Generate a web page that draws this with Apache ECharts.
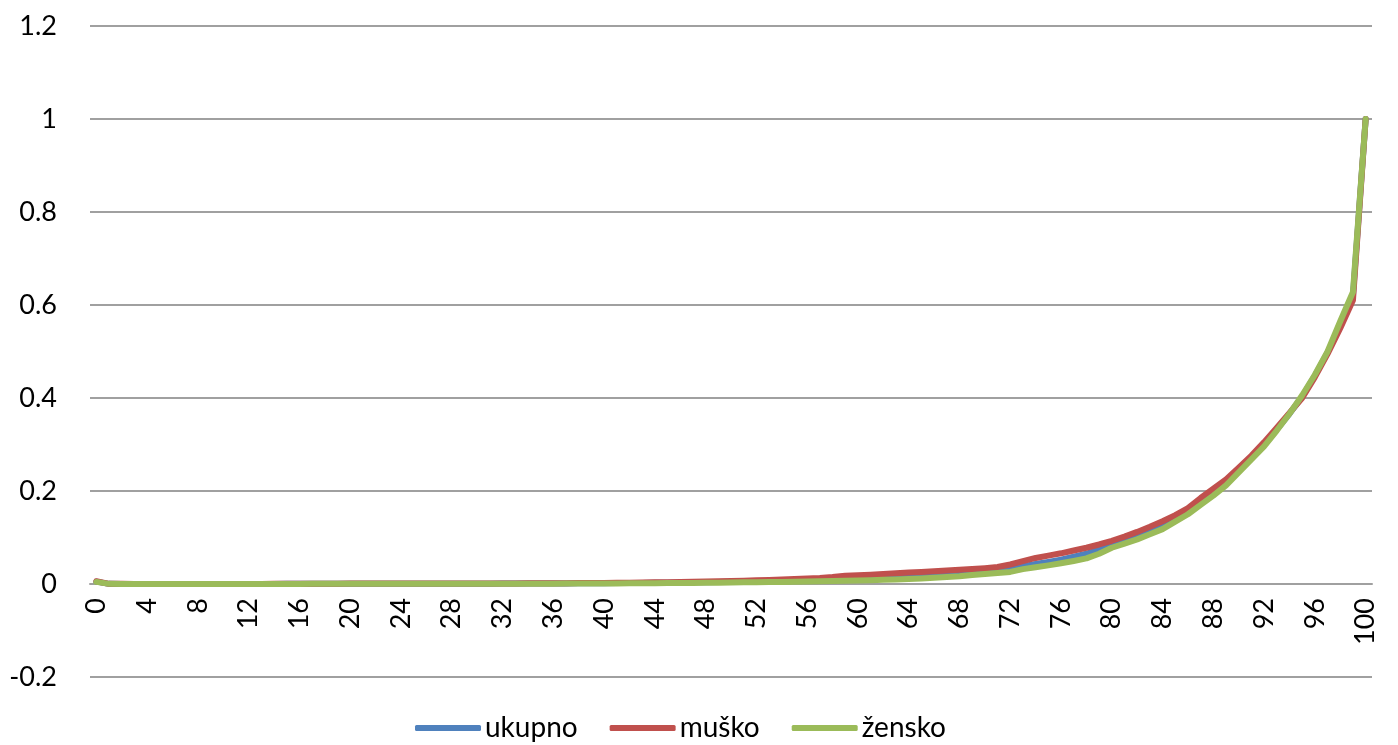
<!DOCTYPE html>
<html>
<head>
<meta charset="utf-8">
<script src="https://cdn.jsdelivr.net/npm/echarts@6/dist/echarts.min.js"></script>
<style>
html,body{margin:0;padding:0;background:#fff;}
#chart{width:1398px;height:745px;}
</style>
</head>
<body>
<div id="chart"></div>
<script>
const ages = Array.from({length: 101}, (_, i) => String(i));
const seriesNames = ['ukupno', 'muško', 'žensko'];
const yTicks = [-0.2, 0, 0.2, 0.4, 0.6, 0.8, 1, 1.2];

const ukupno = [
  0.0052,
  0.0003, 0.0002, 0.0002, 0.0001,
  0.0001, 0.0001, 0.0001, 0.0001, 0.0001,
  0.0001, 0.0001, 0.0001, 0.0002, 0.0002,
  0.0003, 0.0004, 0.0004, 0.0005, 0.0006,
  0.0006, 0.0006, 0.0006, 0.0006, 0.0006,
  0.0006, 0.0006, 0.0007, 0.0007, 0.0007,
  0.0008, 0.0008, 0.0009, 0.0010, 0.0010,
  0.0011, 0.0012, 0.0013, 0.0014, 0.0016,
  0.0017, 0.0019, 0.0022, 0.0024, 0.0026,
  0.0029, 0.0032, 0.0036, 0.0039, 0.0044,
  0.0048, 0.0053, 0.0059, 0.0064, 0.0071,
  0.0078, 0.0085, 0.0094, 0.0106, 0.0124,
  0.0132, 0.0141, 0.0152, 0.0164, 0.0177,
  0.0190, 0.0204, 0.0219, 0.0235, 0.0255,
  0.0275, 0.0298, 0.0335, 0.0380, 0.0430,
  0.0475, 0.0525, 0.0585, 0.0650, 0.0740,
  0.0850, 0.0940, 0.1040, 0.1150, 0.1270,
  0.1400, 0.1560, 0.1740, 0.1950, 0.2170,
  0.2450, 0.2720, 0.3000, 0.3320, 0.3660,
  0.4030, 0.4480, 0.4980, 0.5560, 0.6200,
  1.0
];

const musko = [
  0.0060,
  0.0004, 0.0003, 0.0002, 0.0002,
  0.0001, 0.0001, 0.0001, 0.0001, 0.0001,
  0.0001, 0.0001, 0.0002, 0.0002, 0.0003,
  0.0004, 0.0005, 0.0006, 0.0007, 0.0008,
  0.0009, 0.0009, 0.0009, 0.0009, 0.0009,
  0.0009, 0.0010, 0.0010, 0.0010, 0.0011,
  0.0011, 0.0012, 0.0012, 0.0013, 0.0014,
  0.0015, 0.0016, 0.0018, 0.0019, 0.0021,
  0.0023, 0.0026, 0.0029, 0.0032, 0.0035,
  0.0039, 0.0043, 0.0048, 0.0053, 0.0059,
  0.0065, 0.0072, 0.0080, 0.0088, 0.0097,
  0.0107, 0.0118, 0.0130, 0.0150, 0.0180,
  0.0190, 0.0200, 0.0215, 0.0230, 0.0245,
  0.0260, 0.0275, 0.0290, 0.0305, 0.0320,
  0.0340, 0.0365, 0.0420, 0.0490, 0.0560,
  0.0610, 0.0660, 0.0720, 0.0780, 0.0850,
  0.0930, 0.1020, 0.1120, 0.1230, 0.1350,
  0.1480, 0.1630, 0.1850, 0.2050, 0.2250,
  0.2500, 0.2760, 0.3050, 0.3360, 0.3680,
  0.4000, 0.4450, 0.4950, 0.5500, 0.6100,
  1.0
];

const zensko = [
  0.0045,
  0.0003, 0.0002, 0.0002, 0.0001,
  0.0001, 0.0001, 0.0001, 0.0001, 0.0001,
  0.0001, 0.0001, 0.0001, 0.0001, 0.0002,
  0.0002, 0.0002, 0.0003, 0.0003, 0.0003,
  0.0003, 0.0003, 0.0003, 0.0003, 0.0003,
  0.0003, 0.0003, 0.0004, 0.0004, 0.0004,
  0.0004, 0.0005, 0.0005, 0.0006, 0.0006,
  0.0007, 0.0008, 0.0009, 0.0010, 0.0011,
  0.0012, 0.0013, 0.0015, 0.0016, 0.0018,
  0.0020, 0.0022, 0.0024, 0.0026, 0.0029,
  0.0032, 0.0035, 0.0038, 0.0041, 0.0045,
  0.0049, 0.0053, 0.0058, 0.0063, 0.0069,
  0.0075, 0.0082, 0.0090, 0.0099, 0.0109,
  0.0120, 0.0133, 0.0148, 0.0165, 0.0195,
  0.0215, 0.0235, 0.0260, 0.0320, 0.0360,
  0.0400, 0.0445, 0.0495, 0.0550, 0.0650,
  0.0780, 0.0870, 0.0960, 0.1070, 0.1180,
  0.1340, 0.1500, 0.1700, 0.1900, 0.2120,
  0.2400, 0.2680, 0.2960, 0.3300, 0.3660,
  0.4060, 0.4500, 0.5000, 0.5650, 0.6280,
  1.0
];

const colors = ['#4F81BD', '#C0504D', '#9BBB59'];
const values = [ukupno, musko, zensko];
const FONT = 'Lato, "Open Sans", sans-serif';

const chart = echarts.init(document.getElementById('chart'), null, {renderer: 'canvas'});
chart.setOption({
  animation: false,
  backgroundColor: '#ffffff',
  color: colors,
  grid: {left: 90, right: 26, top: 26, bottom: 68, containLabel: false},
  legend: {
    data: seriesNames,
    top: 709,
    left: 410,
    icon: 'roundRect',
    itemWidth: 66,
    itemHeight: 6,
    itemGap: 32,
    textStyle: {fontFamily: FONT, fontSize: 28, color: '#000', padding: [0, 0, 0, -1]}
  },
  xAxis: {
    type: 'category',
    data: ages,
    boundaryGap: true,
    offset: -93,
    axisLine: {show: true, onZero: false, lineStyle: {color: '#a0a0a0', width: 2}},
    axisTick: {show: false},
    axisLabel: {interval: 3, rotate: 90, margin: 14, fontFamily: FONT, fontSize: 27, color: '#000'},
    splitLine: {show: false}
  },
  yAxis: {
    type: 'value',
    min: yTicks[0],
    max: yTicks[yTicks.length - 1],
    interval: 0.2,
    axisLine: {show: false},
    axisTick: {show: false},
    axisLabel: {margin: 33, fontFamily: FONT, fontSize: 27, color: '#000',
      formatter: v => String(Math.round(v * 10) / 10)},
    splitLine: {show: true, lineStyle: {color: '#a0a0a0', width: 2}}
  },
  series: seriesNames.map((name, i) => ({
    name: name,
    type: 'line',
    data: values[i],
    showSymbol: false,
    symbol: 'none',
    smooth: false,
    lineStyle: {width: 6, color: colors[i], cap: 'round', join: 'round'},
    itemStyle: {color: colors[i]},
    z: 2 + i
  }))
});
</script>
</body>
</html>
